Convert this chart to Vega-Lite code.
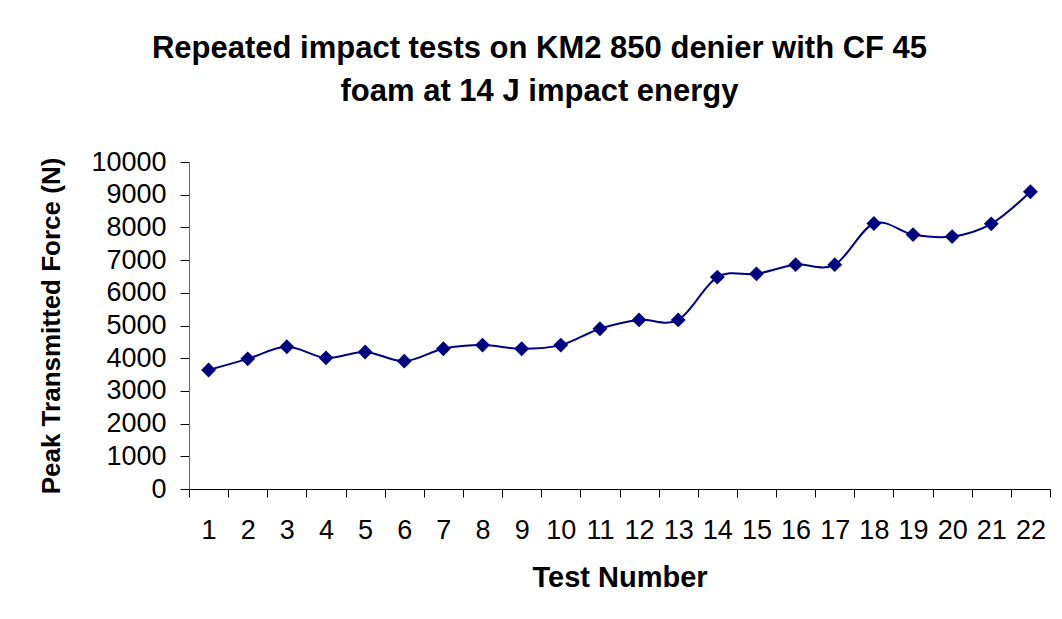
{
  "$schema": "https://vega.github.io/schema/vega-lite/v6.json",
  "width": 861,
  "height": 327,
  "autosize": "none",
  "padding": {"left": 189, "top": 162, "right": 12, "bottom": 130},
  "background": "white",
  "config": {
    "view": {"stroke": null},
    "font": "Liberation Sans"
  },
  "title": {
    "text": ["Repeated impact tests on KM2 850 denier with CF 45", "foam at 14 J impact energy"],
    "font": "Liberation Sans",
    "fontSize": 31,
    "fontWeight": "bold",
    "color": "black",
    "anchor": "middle",
    "dx": -80,
    "lineHeight": 43,
    "offset": 40
  },
  "data": {
    "values": [
      {"test": 1, "force": 3640},
      {"test": 2, "force": 3980},
      {"test": 3, "force": 4350},
      {"test": 4, "force": 4010},
      {"test": 5, "force": 4190},
      {"test": 6, "force": 3910},
      {"test": 7, "force": 4290},
      {"test": 8, "force": 4400},
      {"test": 9, "force": 4290},
      {"test": 10, "force": 4400},
      {"test": 11, "force": 4900},
      {"test": 12, "force": 5170},
      {"test": 13, "force": 5170},
      {"test": 14, "force": 6480},
      {"test": 15, "force": 6580},
      {"test": 16, "force": 6860},
      {"test": 17, "force": 6860},
      {"test": 18, "force": 8120},
      {"test": 19, "force": 7780},
      {"test": 20, "force": 7720},
      {"test": 21, "force": 8110},
      {"test": 22, "force": 9090}
    ]
  },
  "encoding": {
    "x": {
      "field": "test",
      "type": "ordinal",
      "scale": {"type": "band", "paddingInner": 0, "paddingOuter": 0},
      "axis": {
        "title": "Test Number",
        "titleFont": "Liberation Sans",
        "titleFontSize": 29,
        "titleFontWeight": "bold",
        "titleColor": "black",
        "titlePadding": 20,
        "labelAngle": 0,
        "labelFont": "Liberation Sans",
        "labelFontSize": 27,
        "labelColor": "black",
        "labelPadding": 20,
        "labelOverlap": false,
        "tickBand": "extent",
        "tickSize": 8,
        "tickColor": "black",
        "domainColor": "black",
        "grid": false
      }
    },
    "y": {
      "field": "force",
      "type": "quantitative",
      "scale": {"domain": [0, 10000], "nice": false},
      "axis": {
        "title": "Peak Transmitted Force (N)",
        "titleFont": "Liberation Sans",
        "titleFontSize": 26,
        "titleFontWeight": "bold",
        "titleColor": "black",
        "titlePadding": 26,
        "values": [0, 1000, 2000, 3000, 4000, 5000, 6000, 7000, 8000, 9000, 10000],
        "format": "d",
        "labelFont": "Liberation Sans",
        "labelFontSize": 27,
        "labelColor": "black",
        "labelPadding": 14,
        "tickSize": 9,
        "tickColor": "black",
        "domainColor": "#666666",
        "grid": false
      }
    }
  },
  "layer": [
    {
      "mark": {"type": "line", "interpolate": "cardinal", "color": "#000080", "strokeWidth": 2}
    },
    {
      "mark": {"type": "point", "shape": "diamond", "filled": true, "color": "#000080", "opacity": 1, "size": 220}
    }
  ]
}
